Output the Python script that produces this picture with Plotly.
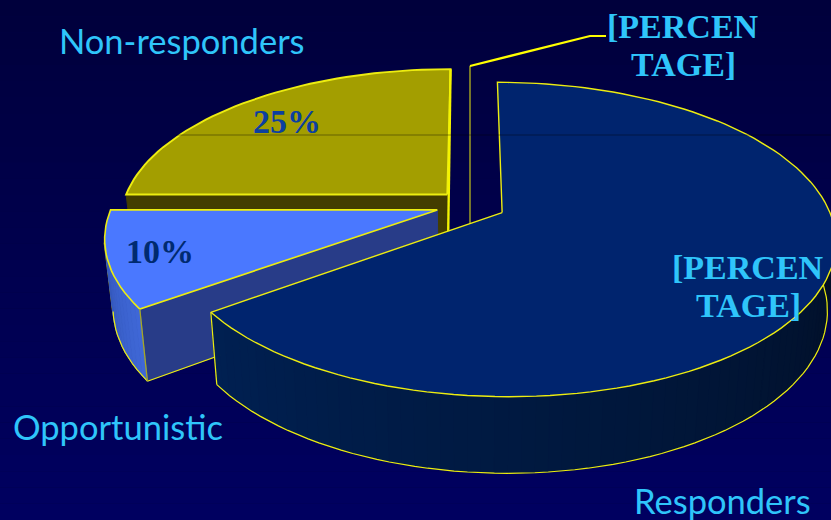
import math
import plotly.graph_objects as go

# Pie data, clockwise from twelve o'clock
categories = ["Responders", "Opportunistic", "Non-responders", "Other"]
shares = [65, 10, 25, 0]
explode = [0.11, 0.105, 0.1, 0.1]
top_colors = ["#00246E", "#4A78FF", "#A39E00", "#000046"]
cut_colors = [None, "#283C88", "#433D00", None]
wall_from = ["#002052", "#3F68D8", "#6E6A00", None]
wall_to = ["#010D22", "#3558BC", "#6E6A00", None]
edge_widths = [1.4, 1.6, 1.9, 1.2]

EDGE = "#EDED10"
EDGE_DIM = "#A8A820"
TEXT = "#2FC5FA"

# Oblique view of the pie with mild perspective
CX, CY, RX, RY, PERSP = 470, 205, 325, 150, 0.17
DROP, FLOOR_X, FLOOR_Y = 67, 0.977, 1.05
W, H = 831, 520


def project(px, py, floor=False):
    d = 1 - PERSP * py
    x, y = RX * px / d, RY * py / d
    if floor:
        x, y = x * FLOOR_X, y * FLOOR_Y + DROP
    return CX + x, CY + y


def rim(offset, deg, floor=False):
    t = math.radians(deg)
    return project(offset[0] + math.sin(t), offset[1] - math.cos(t), floor)


def mix(a, b, f):
    ca = [int(a[i:i + 2], 16) for i in (1, 3, 5)]
    cb = [int(b[i:i + 2], 16) for i in (1, 3, 5)]
    return "rgb(%d,%d,%d)" % tuple(round(p + (q - p) * f) for p, q in zip(ca, cb))


fig = go.Figure()


def poly(points, fill=None, line=None, width=1.2, close=True):
    pts = list(points) + ([points[0]] if close else [])
    fig.add_trace(go.Scatter(
        x=[p[0] for p in pts], y=[p[1] for p in pts], mode="lines",
        fill="toself" if fill else "none", fillcolor=fill,
        line=dict(color=line or fill, width=width if line else 1),
        hoverinfo="skip", showlegend=False))


def arc(offset, a0, a1, floor=False, step=2):
    n = max(2, int(abs(a1 - a0) / step) + 1)
    return [rim(offset, a0 + (a1 - a0) * i / (n - 1), floor) for i in range(n)]


# Slice angles and exploded offsets
spans = {}
acc = 0
for name, share, e in zip(categories, shares, explode):
    a0, a1 = acc * 3.6, (acc + share) * 3.6
    mid = math.radians((a0 + a1) / 2)
    spans[name] = (a0, a1, (e * math.sin(mid), -e * math.cos(mid)))
    acc += share


def draw_slice(i, wall_a, wall_b, cut_deg=None):
    a0, a1, off = spans[categories[i]]
    apex, apex_low = project(*off), project(*off, True)
    if cut_deg is not None:
        poly([apex, rim(off, cut_deg), rim(off, cut_deg, True), apex_low], cut_colors[i])
        poly([apex_low, rim(off, cut_deg, True)], None, EDGE, 1.2, False)
    if wall_a is not None:
        pieces = max(1, int(abs(wall_b - wall_a) / 2))
        for k in range(pieces):
            u0 = wall_a + (wall_b - wall_a) * k / pieces
            u1 = wall_a + (wall_b - wall_a) * (k + 1) / pieces
            poly([rim(off, u0), rim(off, u1), rim(off, u1, True), rim(off, u0, True)],
                 mix(wall_from[i], wall_to[i], (k + 0.5) / pieces))
        poly(arc(off, wall_a, wall_b, True), None, EDGE, 1.2, False)
    poly([apex] + arc(off, a0, a1), top_colors[i], EDGE, edge_widths[i])
    return off


# Back to front: non-responders, the empty slice, opportunistic, responders
draw_slice(2, None, None, 270)
_, _, off_y = spans["Non-responders"]
poly([rim(off_y, 360), project(*off_y, True)], None, "#F4F400", 2.4, False)

_, _, off_z = spans["Other"]
zero_top, zero_low = rim(off_z, 0), project(*off_z, True)
poly([zero_top, zero_low], None, EDGE_DIM, 1.4, False)
poly([zero_top, (590, 36), (606, 36)], None, "#FFFF00", 2.2, False)

# The opportunistic wall stops at its silhouette, where the rim turns away
_, _, off_b = spans["Opportunistic"]
poly([rim(off_b, 258), rim(off_b, 258, True)], None, EDGE_DIM, 2.2, False)
draw_slice(1, 234, 258, 234)
poly([rim(off_b, 234), rim(off_b, 234, True)], None, EDGE_DIM, 1.3, False)

draw_slice(0, 234, 82)
_, _, off_r = spans["Responders"]
poly([rim(off_r, 234), rim(off_r, 234, True)], None, EDGE, 1.2, False)

# Labels, one entry per rendered line
labels = [
    ("Non-responders", 182, 40, "Lato", 34.5, TEXT, False),
    ("Opportunistic", 118, 426, "Lato", 34.5, TEXT, False),
    ("Responders", 722, 500, "Lato", 34.5, TEXT, False),
    ("[PERCEN", 683, 26, "Liberation Serif", 34, TEXT, True),
    ("TAGE]", 683, 64, "Liberation Serif", 34, TEXT, True),
    ("[PERCEN", 748, 267, "Liberation Serif", 34, TEXT, True),
    ("TAGE]", 748, 305, "Liberation Serif", 34, TEXT, True),
    ("25%", 287, 121, "Liberation Serif", 34, "#0B3FA0", True),
    ("10%", 160, 251, "Liberation Serif", 34, "#002A70", True),
]
annotations = [
    dict(x=x, y=y, xref="x", yref="y", text=f"<b>{t}</b>" if bold else t, showarrow=False,
         xanchor="center", yanchor="middle", font=dict(family=fam, size=size, color=col))
    for t, x, y, fam, size, col, bold in labels
]

# Vertical background wash and the faint hairline across the upper pie
strips = 32
shapes = [
    dict(type="rect", layer="below", xref="x", yref="y", x0=0, x1=W,
         y0=H * s / strips, y1=H * (s + 1) / strips, line_width=0,
         fillcolor=mix("#00003C", "#000060", s / (strips - 1)))
    for s in range(strips)
]
shapes.append(dict(type="line", xref="x", yref="y", x0=176, x1=W, y0=135, y1=135,
                   line=dict(color="rgba(0,0,0,0.38)", width=1)))

fig.update_layout(
    width=W, height=H, margin=dict(l=0, r=0, t=0, b=0),
    paper_bgcolor="#000046", plot_bgcolor="#000046",
    xaxis=dict(range=[0, W], visible=False, fixedrange=True),
    yaxis=dict(range=[H, 0], visible=False, fixedrange=True),
    annotations=annotations, shapes=shapes, showlegend=False,
)
fig.write_html("out.html", config={"displayModeBar": False})
